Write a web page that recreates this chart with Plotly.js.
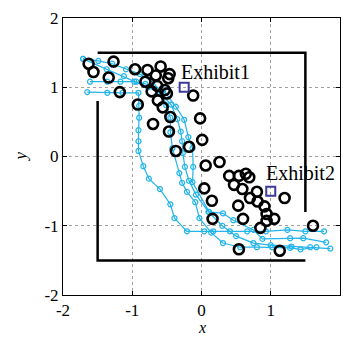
<!DOCTYPE html>
<html><head><meta charset="utf-8">
<script src="https://cdn.plot.ly/plotly-3.0.1.min.js"></script>
<style>html,body{margin:0;padding:0;background:#fff}#g{width:343px;height:338px}</style>
</head><body><div id="g"></div>
<script>
// Scattered observations (black open circles)
const obsX = [-1.63,-1.56,-1.27,-1.34,-1.18,-0.96,-0.78,-0.59,-0.46,-0.48,-0.81,-0.66,-0.64,-0.72,-0.53,-0.50,-0.63,-0.56,-0.92,-0.45,-0.70,-0.12,-0.02,0.01,-0.47,-0.18,-0.37,0.06,0.26,0.40,0.54,0.64,0.69,0.47,0.59,0.04,0.80,0.70,0.15,0.53,0.81,0.91,0.94,1.05,0.94,0.85,0.16,0.60,1.20,1.61,0.54,1.13];
const obsY = [1.34,1.22,1.37,1.14,0.93,1.26,1.25,1.30,1.19,1.13,1.08,1.17,1.02,0.94,0.96,0.91,0.81,0.71,0.75,0.57,0.47,0.88,0.55,0.24,0.36,0.14,0.08,-0.13,-0.08,-0.28,-0.28,-0.25,-0.30,-0.41,-0.47,-0.46,-0.51,-0.60,-0.64,-0.71,-0.65,-0.72,-0.83,-0.90,-0.93,-1.03,-0.90,-0.90,-0.60,-1.00,-1.34,-1.36];

// Trajectories (cyan lines with small circles)
const c1X = [-1.65,-1.36,-1.14,-0.91,-0.90,-0.90,-0.91,-0.91,-0.91,-0.84,-0.76,-0.60,-0.45,-0.39,-0.21,0.04,0.17,0.41,0.66,0.93,1.24,1.50,1.77];
const c1Y = [0.93,0.92,0.92,0.92,0.73,0.56,0.38,0.22,0.08,-0.14,-0.32,-0.47,-0.69,-0.89,-1.08,-1.08,-1.08,-1.08,-1.08,-1.08,-1.06,-1.08,-1.08];
const c2X = [-1.71,-1.49,-1.29,-1.09,-0.89,-0.71,-0.58,-0.51,-0.45,-0.45,-0.42,-0.32,-0.28,-0.21,-0.09,-0.03,0.14,0.31,0.56,0.80,1.02,1.28,1.43,1.66];
const c2Y = [1.41,1.38,1.34,1.26,1.19,1.08,0.93,0.74,0.56,0.35,0.12,-0.24,-0.38,-0.51,-0.66,-0.89,-1.10,-1.25,-1.31,-1.31,-1.31,-1.32,-1.34,-1.31];
const c3X = [-1.61,-1.36,-1.17,-0.97,-0.81,-0.55,-0.37,-0.25,-0.19,-0.13,-0.12,-0.13,0.11,0.31,0.46,0.75,0.88,1.28,1.47,1.80];
const c3Y = [1.08,1.08,1.08,1.08,1.05,0.96,0.72,0.53,0.28,0.12,-0.15,-0.37,-0.80,-0.82,-0.92,-1.06,-1.19,-1.18,-1.18,-1.24];
const c4X = [-1.71,-1.37,-1.12,-0.94,-0.77,-0.60,-0.44,-0.35,-0.30,-0.28,-0.27,-0.24,-0.18,-0.08,0.10,0.30,0.50,0.75,1.00,1.30,1.57,1.86];
const c4Y = [1.41,1.26,1.16,1.08,1.00,0.92,0.75,0.54,0.36,0.22,0.05,-0.15,-0.35,-0.55,-0.80,-1.00,-1.15,-1.25,-1.28,-1.30,-1.31,-1.33];

// Boundary frame
const frameAX = [-1.5,1.5,1.5];
const frameAY = [1.5,1.5,-0.8];
const frameBX = [-1.5,-1.5,1.5];
const frameBY = [0.8,-1.5,-1.5];

// Exhibits
const exX = [-0.25,1.0];
const exY = [1.0,-0.5];
const exLabels = ['Exhibit1','Exhibit2'];
const exLabelX = [-0.33,0.90];
const exLabelY = [1.22,-0.24];

const cyan = '#22b4ea';
const traj = (x,y)=>({x:x,y:y,type:'scatter',mode:'lines+markers',
  line:{color:cyan,width:1.2},
  marker:{symbol:'circle-open',size:5,color:cyan,line:{width:1.2,color:cyan}},hoverinfo:'skip'});

const data = [
  {x:frameAX,y:frameAY,type:'scatter',mode:'lines',line:{color:'#000',width:2.5}},
  {x:frameBX,y:frameBY,type:'scatter',mode:'lines',line:{color:'#000',width:2.5}},
  traj(c1X,c1Y),traj(c2X,c2Y),traj(c3X,c3Y),traj(c4X,c4Y),
  {x:obsX,y:obsY,type:'scatter',mode:'markers',
   marker:{symbol:'circle-open',size:10,color:'#000',line:{width:2.6,color:'#000'}}},
  {x:exX,y:exY,type:'scatter',mode:'markers',
   marker:{symbol:'square-open',size:9,color:'#3a3a9a',line:{width:2,color:'#3a3a9a'}}}
];

const serif = 'Liberation Serif, Times New Roman, serif';
const font = {family:serif,size:17,color:'#000'};
const annFont = {family:serif,size:20,color:'#000'};
const axisBase = {range:[-2,2],tickvals:[-2,-1,0,1,2],ticktext:['-2','-1','0','1','2'],
  showgrid:true,gridcolor:'#a0a0a0',griddash:'dot',gridwidth:1,zeroline:false,
  showline:true,linecolor:'#000',linewidth:1,mirror:'ticks',ticks:'inside',ticklen:4,tickcolor:'#000',
  tickfont:font};

const annotations = exLabels.map((t,i)=>({x:exLabelX[i],y:exLabelY[i],text:t,showarrow:false,
     xanchor:'left',yanchor:'middle',font:annFont}));
annotations.push({xref:'paper',yref:'paper',x:0.5,y:-0.118,text:'<i>x</i>',showarrow:false,
  xanchor:'center',yanchor:'middle',font:{family:serif,size:16,color:'#000'},borderpad:0});
annotations.push({xref:'paper',yref:'paper',x:-0.155,y:0.5,text:'<i>y</i>',showarrow:false,textangle:-90,
  xanchor:'center',yanchor:'middle',font:{family:serif,size:17,color:'#000'},borderpad:0});

const layout = {
  width:343,height:338,margin:{l:63,r:3,t:18,b:43},
  paper_bgcolor:'#fff',plot_bgcolor:'#fff',showlegend:false,font:font,
  xaxis:Object.assign({},axisBase),
  yaxis:Object.assign({},axisBase),
  annotations: annotations
};
Plotly.newPlot('g',data,layout,{staticPlot:true,displayModeBar:false});
</script></body></html>
